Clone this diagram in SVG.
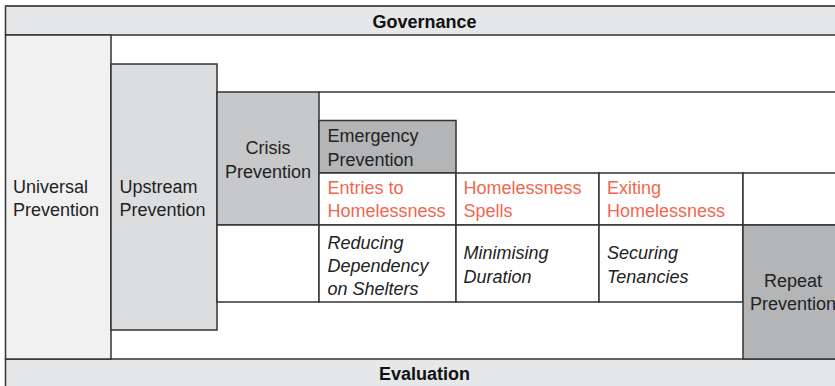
<svg xmlns="http://www.w3.org/2000/svg" width="835" height="386" viewBox="0 0 835 386">
<style>
.b{stroke:#333;stroke-width:1.5}
.t{font-family:"Liberation Sans",Arial,sans-serif;font-size:18px;fill:#222}
.h{font-weight:bold;fill:#111}
.r{fill:#f0674f}
.i{font-style:italic}
.m{text-anchor:middle}
</style>
<rect x="0" y="0" width="835" height="386" fill="#ffffff"/>
<g id="governance">
<rect class="b" x="5.5" y="6" width="845" height="29" fill="#e6e7e8"/>
<line x1="5" y1="6" x2="835" y2="6" stroke="#555" stroke-width="2"/>
<text class="t h m" x="424.5" y="28">Governance</text>
</g>
<g id="evaluation">
<rect class="b" x="5.5" y="359" width="845" height="40" fill="#e6e7e8"/>
<text class="t h m" x="424.5" y="380">Evaluation</text>
</g>
<g id="universal">
<rect class="b" x="5.5" y="35" width="105.5" height="324" fill="#f1f1f2"/>
<text class="t" x="13" y="192.5">Universal</text>
<text class="t" x="13" y="216">Prevention</text>
</g>
<g id="upstream">
<rect class="b" x="111" y="64" width="106" height="266" fill="#dcdddf"/>
<text class="t" x="119.5" y="192.5">Upstream</text>
<text class="t" x="119.5" y="216">Prevention</text>
</g>
<g id="crisis">
<rect class="b" x="217" y="92" width="102" height="133" fill="#c7c8ca"/>
<text class="t m" x="268" y="154">Crisis</text>
<text class="t m" x="268" y="177.5">Prevention</text>
</g>
<g id="emergency">
<rect class="b" x="319" y="120.5" width="137" height="52.5" fill="#b3b5b7"/>
<text class="t" x="327.5" y="141.5">Emergency</text>
<text class="t" x="327.5" y="165.5">Prevention</text>
</g>
<g id="entries">
<rect class="b" x="319" y="173" width="137" height="52" fill="#ffffff"/>
<text class="t r" x="327.5" y="193.5">Entries to</text>
<text class="t r" x="327.5" y="217">Homelessness</text>
</g>
<g id="spells">
<rect class="b" x="456" y="173" width="143" height="52" fill="#ffffff"/>
<text class="t r" x="463.5" y="193.5">Homelessness</text>
<text class="t r" x="463.5" y="217">Spells</text>
</g>
<g id="exiting">
<rect class="b" x="599" y="173" width="144" height="52" fill="#ffffff"/>
<text class="t r" x="607" y="193.5">Exiting</text>
<text class="t r" x="607" y="217">Homelessness</text>
</g>
<g id="blank-right">
<rect class="b" x="743" y="173" width="110" height="52" fill="#ffffff"/>
</g>
<g id="blank-crisis">
<rect class="b" x="217" y="225" width="102" height="77" fill="#ffffff"/>
</g>
<g id="reducing">
<rect class="b" x="319" y="225" width="137" height="77" fill="#ffffff"/>
<text class="t i" x="327.5" y="248.5">Reducing</text>
<text class="t i" x="327.5" y="271.5">Dependency</text>
<text class="t i" x="327.5" y="294.5">on Shelters</text>
</g>
<g id="minimising">
<rect class="b" x="456" y="225" width="143" height="77" fill="#ffffff"/>
<text class="t i" x="463.5" y="259">Minimising</text>
<text class="t i" x="463.5" y="282.5">Duration</text>
</g>
<g id="securing">
<rect class="b" x="599" y="225" width="144" height="77" fill="#ffffff"/>
<text class="t i" x="607" y="259">Securing</text>
<text class="t i" x="607" y="282.5">Tenancies</text>
</g>
<g id="repeat">
<rect class="b" x="743" y="225" width="110" height="134" fill="#b3b5b7"/>
<text class="t m" x="793" y="286.5">Repeat</text>
<text class="t m" x="793" y="310">Prevention</text>
</g>
<g id="connectors">
<line class="b" x1="319" y1="92" x2="850" y2="92"/>
</g>
</svg>
